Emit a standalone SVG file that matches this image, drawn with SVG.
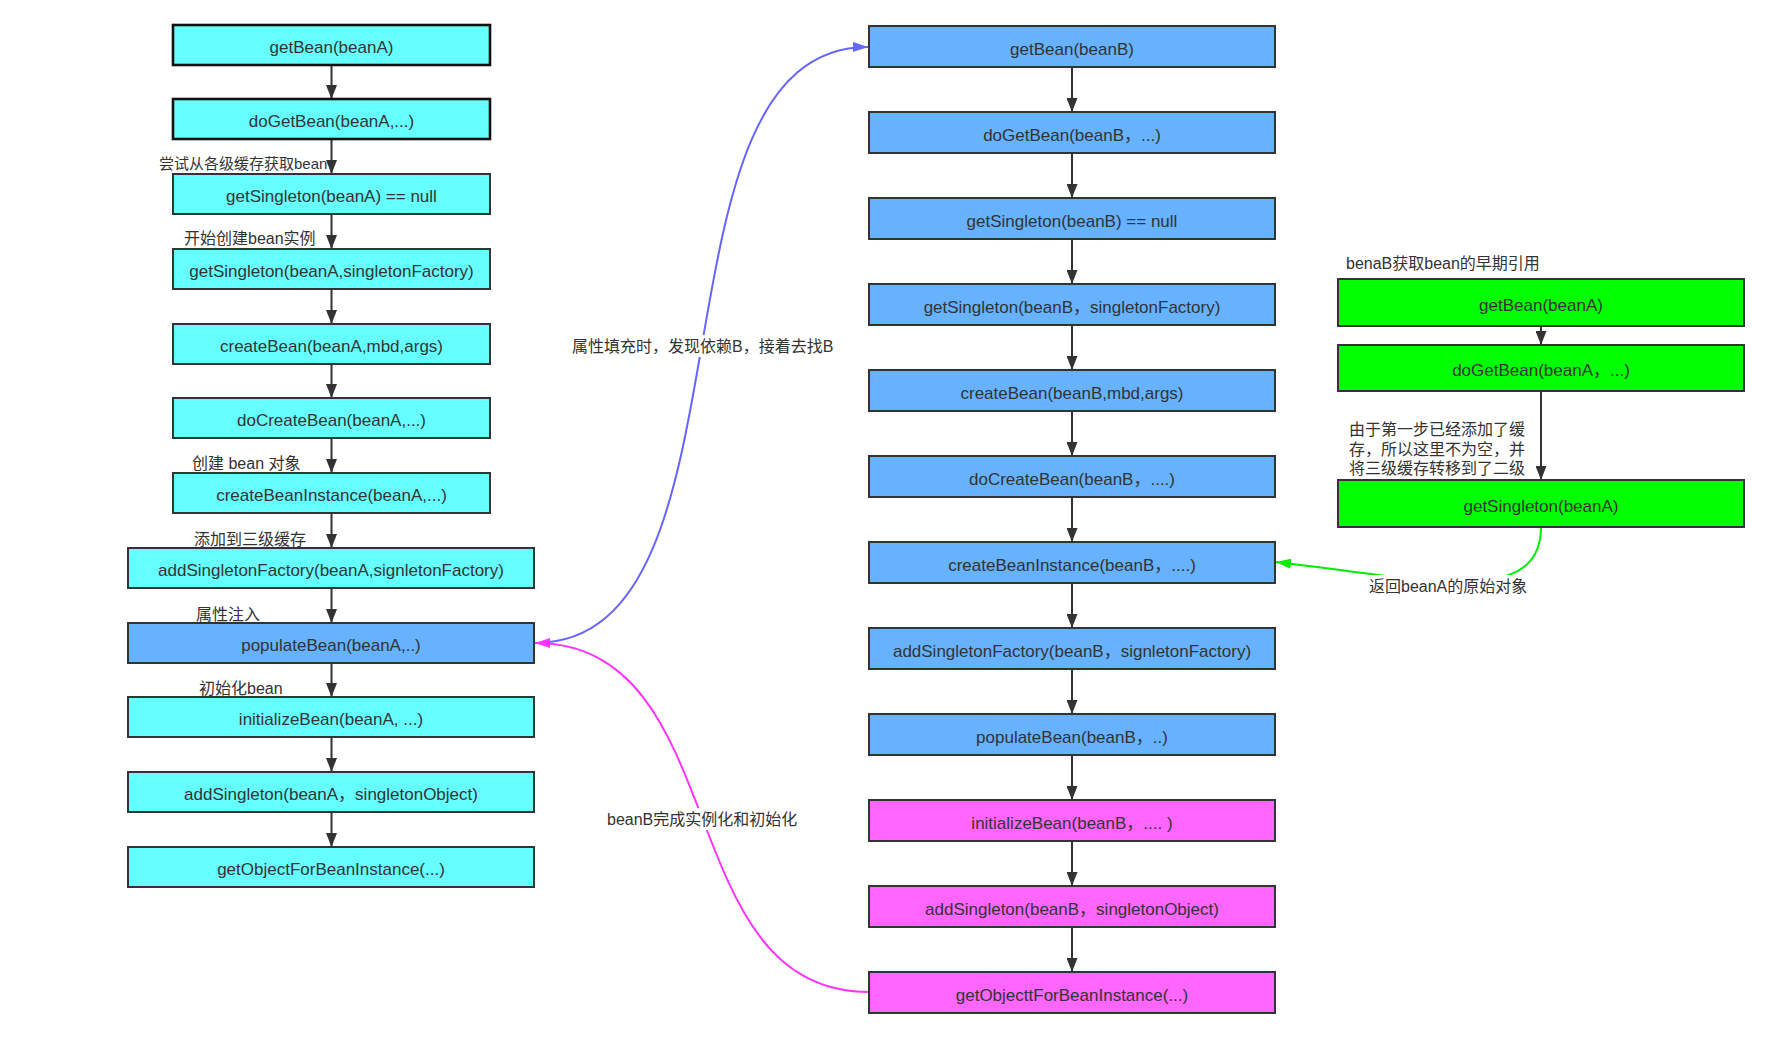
<svg xmlns="http://www.w3.org/2000/svg" width="1770" height="1038" viewBox="0 0 1770 1038">
<style>
.box{stroke:#333333;stroke-width:2}
.bk{stroke:#111111;stroke-width:2.6}
.cy{fill:#66FFFF}.bl{fill:#66B2FF}.gr{fill:#00FF00}.mg{fill:#FF66FF}
text{font-family:"Liberation Sans","Noto Sans CJK SC",sans-serif;fill:#333333}
.t{font-size:17px;text-anchor:middle}
.l{font-size:16px}
.conn line{stroke:#333333;stroke-width:2}
.curve{fill:none;stroke-width:2}
</style>
<defs>
<marker id="ad" viewBox="0 0 14 11" refX="14" refY="5.5" markerWidth="14" markerHeight="11" orient="auto" markerUnits="userSpaceOnUse"><path d="M0,0 L14,5.5 L0,11 Z" fill="#333333"/></marker>
<marker id="ab" viewBox="0 0 15 10" refX="15" refY="5" markerWidth="15" markerHeight="10" orient="auto" markerUnits="userSpaceOnUse"><path d="M0,0 L15,5 L0,10 Z" fill="#6666FF"/></marker>
<marker id="am" viewBox="0 0 15 10" refX="15" refY="5" markerWidth="15" markerHeight="10" orient="auto" markerUnits="userSpaceOnUse"><path d="M0,0 L15,5 L0,10 Z" fill="#FF33FF"/></marker>
<marker id="ag" viewBox="0 0 15 10" refX="15" refY="5" markerWidth="15" markerHeight="10" orient="auto" markerUnits="userSpaceOnUse"><path d="M0,0 L15,5 L0,10 Z" fill="#00EE00"/></marker>
</defs>
<rect width="1770" height="1038" fill="#ffffff"/>

<g id="connectors" class="conn">
<line x1="331.5" y1="65" x2="331.5" y2="99" marker-end="url(#ad)"/>
<line x1="331.5" y1="139" x2="331.5" y2="174" marker-end="url(#ad)"/>
<line x1="331.5" y1="214" x2="331.5" y2="249" marker-end="url(#ad)"/>
<line x1="331.5" y1="289" x2="331.5" y2="324" marker-end="url(#ad)"/>
<line x1="331.5" y1="364" x2="331.5" y2="398" marker-end="url(#ad)"/>
<line x1="331.5" y1="438" x2="331.5" y2="473" marker-end="url(#ad)"/>
<line x1="331.5" y1="513" x2="331.5" y2="548" marker-end="url(#ad)"/>
<line x1="331.5" y1="588" x2="331.5" y2="623" marker-end="url(#ad)"/>
<line x1="331.5" y1="663" x2="331.5" y2="697" marker-end="url(#ad)"/>
<line x1="331.5" y1="737" x2="331.5" y2="772" marker-end="url(#ad)"/>
<line x1="331.5" y1="812" x2="331.5" y2="847" marker-end="url(#ad)"/>

<line x1="1072" y1="67" x2="1072" y2="112" marker-end="url(#ad)"/>
<line x1="1072" y1="153" x2="1072" y2="198" marker-end="url(#ad)"/>
<line x1="1072" y1="239" x2="1072" y2="284" marker-end="url(#ad)"/>
<line x1="1072" y1="325" x2="1072" y2="370" marker-end="url(#ad)"/>
<line x1="1072" y1="411" x2="1072" y2="456" marker-end="url(#ad)"/>
<line x1="1072" y1="497" x2="1072" y2="542" marker-end="url(#ad)"/>
<line x1="1072" y1="583" x2="1072" y2="628" marker-end="url(#ad)"/>
<line x1="1072" y1="669" x2="1072" y2="714" marker-end="url(#ad)"/>
<line x1="1072" y1="755" x2="1072" y2="800" marker-end="url(#ad)"/>
<line x1="1072" y1="841" x2="1072" y2="886" marker-end="url(#ad)"/>
<line x1="1072" y1="927" x2="1072" y2="972" marker-end="url(#ad)"/>

<line x1="1541" y1="326" x2="1541" y2="345" marker-end="url(#ad)"/>
<line x1="1541" y1="391" x2="1541" y2="480" marker-end="url(#ad)"/>

<path class="curve" d="M535,643 C766,643 638,47 868,47" stroke="#6666FF" marker-end="url(#ab)"/>
<path class="curve" d="M869,992 C669,992 735,643 535,643" stroke="#FF33FF" marker-end="url(#am)"/>
<path class="curve" d="M1541,527 C1541,610 1420,578 1276,562" stroke="#00EE00" marker-end="url(#ag)"/>

<rect x="570" y="335" width="264" height="22" fill="#ffffff"/>
<text class="l" x="572" y="352">属性填充时，发现依赖B，接着去找B</text>
<rect x="605" y="808" width="194" height="22" fill="#ffffff"/>
<text class="l" x="607" y="825">beanB完成实例化和初始化</text>
<rect x="1367" y="575" width="162" height="24" fill="#ffffff"/>
<text class="l" x="1369" y="592">返回beanA的原始对象</text>
</g>

<g id="labels">
<text x="159" y="169" style="font-size:15px">尝试从各级缓存获取bean</text>
<text class="l" x="184" y="244">开始创建bean实例</text>
<text class="l" x="192" y="469">创建 bean 对象</text>
<text class="l" x="194" y="545">添加到三级缓存</text>
<text class="l" x="196" y="620">属性注入</text>
<text class="l" x="199" y="694">初始化bean</text>
<text class="l" x="1346" y="269">benaB获取bean的早期引用</text>
<text class="l" x="1349" y="435">由于第一步已经添加了缓</text>
<text class="l" x="1349" y="455">存，所以这里不为空，并</text>
<text class="l" x="1349" y="474">将三级缓存转移到了二级</text>
</g>

<g id="a1"><rect class="bk cy" x="173" y="25" width="317" height="40"/><text class="t" x="331.5" y="53">getBean(beanA)</text></g>
<g id="a2"><rect class="bk cy" x="173" y="99" width="317" height="40"/><text class="t" x="331.5" y="127">doGetBean(beanA,...)</text></g>
<g id="a3"><rect class="box cy" x="173" y="174" width="317" height="40"/><text class="t" x="331.5" y="202">getSingleton(beanA) == null</text></g>
<g id="a4"><rect class="box cy" x="173" y="249" width="317" height="40"/><text class="t" x="331.5" y="277">getSingleton(beanA,singletonFactory)</text></g>
<g id="a5"><rect class="box cy" x="173" y="324" width="317" height="40"/><text class="t" x="331.5" y="352">createBean(beanA,mbd,args)</text></g>
<g id="a6"><rect class="box cy" x="173" y="398" width="317" height="40"/><text class="t" x="331.5" y="426">doCreateBean(beanA,...)</text></g>
<g id="a7"><rect class="box cy" x="173" y="473" width="317" height="40"/><text class="t" x="331.5" y="501">createBeanInstance(beanA,...)</text></g>
<g id="a8"><rect class="box cy" x="128" y="548" width="406" height="40"/><text class="t" x="331" y="576">addSingletonFactory(beanA,signletonFactory)</text></g>
<g id="a9"><rect class="box bl" x="128" y="623" width="406" height="40"/><text class="t" x="331" y="651">populateBean(beanA,..)</text></g>
<g id="a10"><rect class="box cy" x="128" y="697" width="406" height="40"/><text class="t" x="331" y="725">initializeBean(beanA, ...)</text></g>
<g id="a11"><rect class="box cy" x="128" y="772" width="406" height="40"/><text class="t" x="331" y="800">addSingleton(beanA，singletonObject)</text></g>
<g id="a12"><rect class="box cy" x="128" y="847" width="406" height="40"/><text class="t" x="331" y="875">getObjectForBeanInstance(...)</text></g>

<g id="b1"><rect class="box bl" x="869" y="26" width="406" height="41"/><text class="t" x="1072" y="54.5">getBean(beanB)</text></g>
<g id="b2"><rect class="box bl" x="869" y="112" width="406" height="41"/><text class="t" x="1072" y="140.5">doGetBean(beanB，...)</text></g>
<g id="b3"><rect class="box bl" x="869" y="198" width="406" height="41"/><text class="t" x="1072" y="226.5">getSingleton(beanB) == null</text></g>
<g id="b4"><rect class="box bl" x="869" y="284" width="406" height="41"/><text class="t" x="1072" y="312.5">getSingleton(beanB，singletonFactory)</text></g>
<g id="b5"><rect class="box bl" x="869" y="370" width="406" height="41"/><text class="t" x="1072" y="398.5">createBean(beanB,mbd,args)</text></g>
<g id="b6"><rect class="box bl" x="869" y="456" width="406" height="41"/><text class="t" x="1072" y="484.5">doCreateBean(beanB，....)</text></g>
<g id="b7"><rect class="box bl" x="869" y="542" width="406" height="41"/><text class="t" x="1072" y="570.5">createBeanInstance(beanB，....)</text></g>
<g id="b8"><rect class="box bl" x="869" y="628" width="406" height="41"/><text class="t" x="1072" y="656.5">addSingletonFactory(beanB，signletonFactory)</text></g>
<g id="b9"><rect class="box bl" x="869" y="714" width="406" height="41"/><text class="t" x="1072" y="742.5">populateBean(beanB，..)</text></g>
<g id="b10"><rect class="box mg" x="869" y="800" width="406" height="41"/><text class="t" x="1072" y="828.5">initializeBean(beanB，.... )</text></g>
<g id="b11"><rect class="box mg" x="869" y="886" width="406" height="41"/><text class="t" x="1072" y="914.5">addSingleton(beanB，singletonObject)</text></g>
<g id="b12"><rect class="box mg" x="869" y="972" width="406" height="41"/><text class="t" x="1072" y="1000.5">getObjecttForBeanInstance(...)</text></g>

<g id="g1"><rect class="box gr" x="1338" y="279" width="406" height="47"/><text class="t" x="1541" y="310.5">getBean(beanA)</text></g>
<g id="g2"><rect class="box gr" x="1338" y="345" width="406" height="46"/><text class="t" x="1541" y="376">doGetBean(beanA，...)</text></g>
<g id="g3"><rect class="box gr" x="1338" y="480" width="406" height="47"/><text class="t" x="1541" y="511.5">getSingleton(beanA)</text></g>
</svg>
